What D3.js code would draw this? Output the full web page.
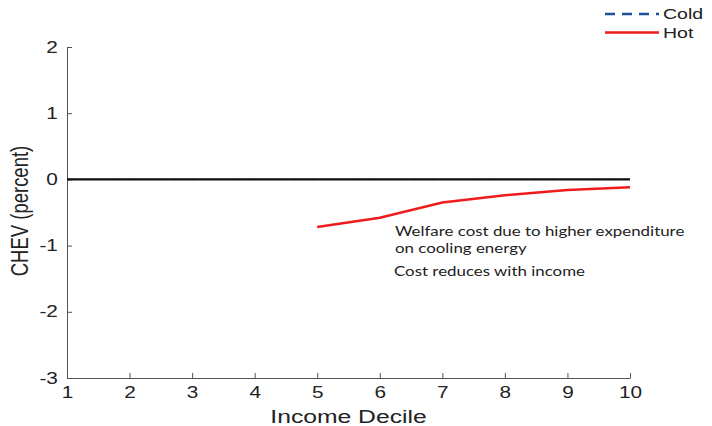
<!DOCTYPE html>
<html>
<head>
<meta charset="utf-8">
<script src="https://cdn.jsdelivr.net/npm/d3@7"></script>
<style>
  html, body { margin: 0; padding: 0; background: #fff; }
  svg { display: block; }
</style>
</head>
<body>
<svg id="chart" width="712" height="426"></svg>
<script>
// Income deciles and consumption-equivalent welfare changes (percent)
const deciles = [1, 2, 3, 4, 5, 6, 7, 8, 9, 10];
const coldValues = [0, 0, 0, 0, 0, 0, 0, 0, 0, 0];
const hotDeciles = [5, 6, 7, 8, 9, 10];
const hotValues = [-0.72, -0.58, -0.35, -0.24, -0.16, -0.12];
const xTicks = [1, 2, 3, 4, 5, 6, 7, 8, 9, 10];
const yTicks = [-3, -2, -1, 0, 1, 2];
const noteLines = ["Welfare cost due to higher expenditure", "on cooling energy"];
const noteLine2 = "Cost reduces with income";

const svg = d3.select("#chart");
const margin = { left: 67, right: 82, top: 47, bottom: 48 };
const W = 712, H = 426;
const SX = 1.3; // horizontal text stretch

const x = d3.scaleLinear().domain([1, 10]).range([margin.left, W - margin.right]);
const y = d3.scaleLinear().domain([-3, 2]).range([H - margin.bottom, margin.top]);

const axisFont = "'Liberation Sans', Arial, sans-serif";
const fmt = d => String(d);

// Bottom axis with inward ticks
const gx = svg.append("g")
  .attr("transform", `translate(0,${y(-3)})`)
  .call(d3.axisBottom(x).tickValues(xTicks).tickFormat(fmt).tickSizeInner(-5).tickSizeOuter(0).tickPadding(9));
gx.select(".domain").attr("stroke", "#555").attr("stroke-width", 1);
gx.selectAll(".tick line").attr("stroke", "#555");
gx.selectAll("text").attr("font-family", axisFont).attr("font-size", 16).attr("fill", "#222")
  .attr("transform", `scale(${SX},1)`);

// Left axis with inward ticks
const gy = svg.append("g")
  .attr("transform", `translate(${x(1)},0)`)
  .call(d3.axisLeft(y).tickValues(yTicks).tickFormat(fmt).tickSizeInner(-5).tickSizeOuter(0).tickPadding(7));
gy.select(".domain").attr("stroke", "#555").attr("stroke-width", 1);
gy.selectAll(".tick line").attr("stroke", "#555");
gy.selectAll("text").attr("font-family", axisFont).attr("font-size", 16).attr("fill", "#222")
  .attr("transform", `scale(${SX},1)`);

// Cold scenario (sits along zero)
const line = d3.line().x(d => x(d[0])).y(d => y(d[1]));
svg.append("path")
  .datum(deciles.map((d, i) => [d, coldValues[i]]))
  .attr("d", line)
  .attr("fill", "none")
  .attr("stroke", "#1f4e9c")
  .attr("stroke-width", 1.2)
  .attr("stroke-dasharray", "9,6");

// Zero reference line
svg.append("line")
  .attr("x1", x(1)).attr("x2", x(10))
  .attr("y1", y(0)).attr("y2", y(0))
  .attr("stroke", "#111").attr("stroke-width", 2.2);

// Hot scenario
svg.append("path")
  .datum(hotDeciles.map((d, i) => [d, hotValues[i]]))
  .attr("d", line)
  .attr("fill", "none")
  .attr("stroke", "#ee1c1c")
  .attr("stroke-width", 2.5);

// Stretched text helper
function stretchedText(tx, ty, str, opts) {
  return svg.append("text")
    .attr("transform", `translate(${tx},${ty}) scale(${SX},1)${opts.rotate ? " rotate(-90)" : ""}`)
    .attr("text-anchor", opts.anchor || "start")
    .attr("font-family", opts.font || axisFont)
    .attr("font-size", opts.size)
    .attr("fill", "#222")
    .text(str);
}

// Axis titles
stretchedText((x(1) + x(10)) / 2, 423, "Income Decile", { anchor: "middle", size: 19 });
stretchedText(28, 211, "CHEV (percent)", { anchor: "middle", size: 18.5, rotate: true });

// Legend
const legend = svg.append("g");
legend.append("line")
  .attr("x1", 605).attr("x2", 659).attr("y1", 14).attr("y2", 14)
  .attr("stroke", "#1f4e9c").attr("stroke-width", 2.5).attr("stroke-dasharray", "10,7");
stretchedText(663, 18.5, "Cold", { size: 15 });
legend.append("line")
  .attr("x1", 605).attr("x2", 659).attr("y1", 32.5).attr("y2", 32.5)
  .attr("stroke", "#ee1c1c").attr("stroke-width", 2.5);
stretchedText(663, 37.5, "Hot", { size: 15 });

// Annotation
const noteFont = "Lato, 'Open Sans', sans-serif";
noteLines.forEach((t, i) => {
  stretchedText(395, 236 + i * 16.5, t, { size: 13, font: noteFont });
});
stretchedText(394, 276, noteLine2, { size: 13, font: noteFont });
</script>
</body>
</html>
